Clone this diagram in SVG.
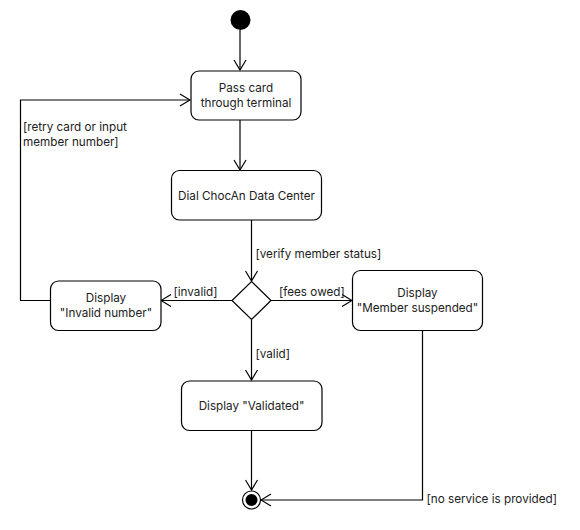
<svg xmlns="http://www.w3.org/2000/svg" width="580" height="530" viewBox="0 0 580 530">
<style>
.box{fill:#fff;stroke:#000;stroke-width:1.2}
.t{font-family:Inter,"Open Sans",sans-serif;font-size:11.7px;fill:#222;text-anchor:middle}
.l{font-family:Inter,"Open Sans",sans-serif;font-size:11.7px;fill:#222}
.c{fill:none;stroke:#000;stroke-width:1.2}
</style>
<defs>
<marker id="arr" markerWidth="12" markerHeight="14" refX="11" refY="7" orient="auto" markerUnits="userSpaceOnUse">
<path d="M1,1 L11,7 L1,13" fill="none" stroke="#000" stroke-width="1.2"/>
</marker>
</defs>
<rect width="580" height="530" fill="#fff"/>
<g id="connectors">
<line class="c" x1="240" y1="30" x2="240" y2="70" marker-end="url(#arr)"/>
<line class="c" x1="240" y1="120" x2="240" y2="170" marker-end="url(#arr)"/>
<line class="c" x1="251.5" y1="220" x2="251.5" y2="281" marker-end="url(#arr)"/>
<line class="c" x1="232" y1="300.5" x2="161" y2="300.5" marker-end="url(#arr)"/>
<line class="c" x1="271" y1="300.5" x2="352" y2="300.5" marker-end="url(#arr)"/>
<line class="c" x1="251.5" y1="320" x2="251.5" y2="380" marker-end="url(#arr)"/>
<line class="c" x1="251.5" y1="430" x2="251.5" y2="490" marker-end="url(#arr)"/>
<polyline class="c" points="422.5,330 422.5,500 261,500" marker-end="url(#arr)"/>
<polyline class="c" points="50.5,300.5 20.5,300.5 20.5,100 190,100" marker-end="url(#arr)"/>
<text class="l" x="23" y="131">[retry card or input<tspan x="23" dy="15">member number]</tspan></text>
<text class="l" x="255.5" y="258">[verify member status]</text>
<text class="l" x="173.5" y="296">[invalid]</text>
<text class="l" x="279" y="296">[fees owed]</text>
<text class="l" x="255.5" y="358">[valid]</text>
<text class="l" x="426.5" y="503">[no service is provided]</text>
</g>
<g id="start"><circle cx="240.5" cy="20" r="10" fill="#000"/></g>
<g id="pass"><rect class="box" x="191" y="71" width="110" height="49" rx="8"/>
<text class="t" x="246" y="92">Pass card<tspan x="246" dy="15">through terminal</tspan></text></g>
<g id="dial"><rect class="box" x="171.5" y="170.5" width="150" height="49.5" rx="8"/>
<text class="t" x="246.5" y="200">Dial ChocAn Data Center</text></g>
<g id="decision"><polygon class="box" points="251.5,281.5 271,300.5 251.5,319.5 232,300.5"/></g>
<g id="invalid"><rect class="box" x="50.5" y="281" width="110.5" height="49.5" rx="8"/>
<text class="t" x="106" y="302">Display<tspan x="106" dy="15">"Invalid number"</tspan></text></g>
<g id="suspended"><rect class="box" x="352.5" y="270.5" width="130" height="60" rx="8"/>
<text class="t" x="417.5" y="297">Display<tspan x="417.5" dy="15">"Member suspended"</tspan></text></g>
<g id="validated"><rect class="box" x="181.5" y="381" width="140.5" height="49.5" rx="8"/>
<text class="t" x="251.5" y="410">Display "Validated"</text></g>
<g id="end"><circle cx="251.5" cy="500" r="9" fill="#fff" stroke="#000" stroke-width="1.2"/><circle cx="251.5" cy="500" r="6" fill="#000"/></g>
</svg>
